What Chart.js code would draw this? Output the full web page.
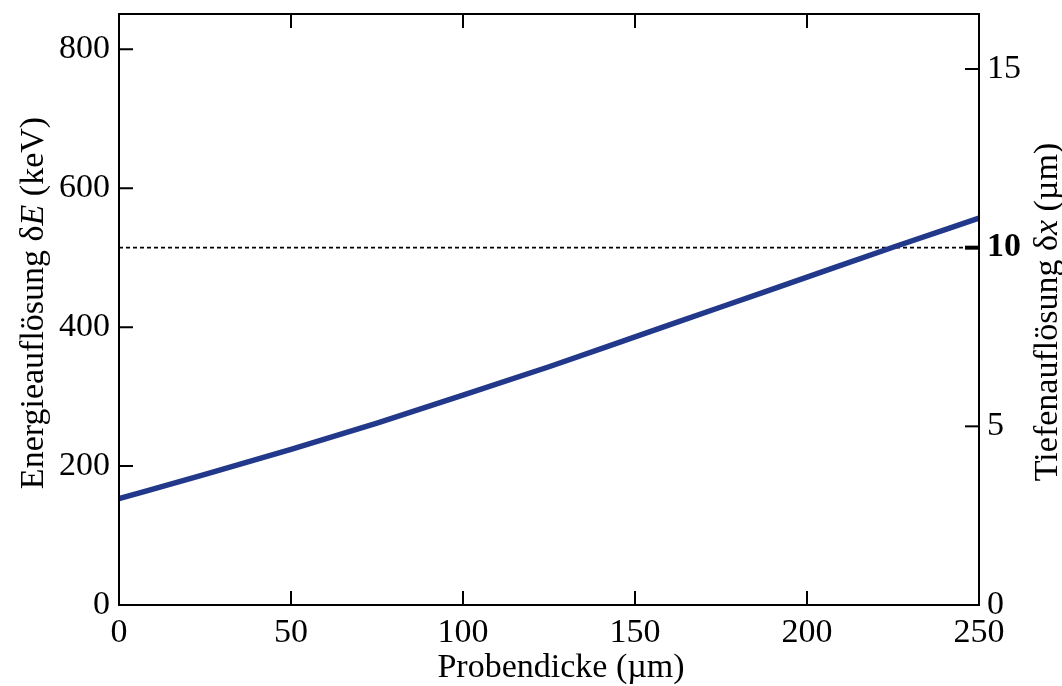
<!DOCTYPE html>
<html>
<head>
<meta charset="utf-8">
<script src="https://cdn.jsdelivr.net/npm/chart.js@4.4.1/dist/chart.umd.min.js"></script>
<style>
  html, body { margin: 0; padding: 0; background: #fff; }
  canvas { display: block; }
</style>
</head>
<body>
<canvas id="resolutionChart" width="1062" height="686"></canvas>
<script>
// Probendicke (µm) und Energieauflösung (keV)
const thickness = [0, 25, 50, 75, 100, 125, 150, 175, 200, 225, 250];
const energyRes = [153, 188, 224, 262, 302, 343, 386, 429, 472, 515, 557];

// Referenzlinie bei 10 µm Tiefenauflösung
const refThickness = [0, 250];
const refDepth = [10, 10];

// Achsenbereiche (rechte Achse: 1 µm ≙ 51.4 keV)
const energyMax = 850.8;
const depthMax = 16.54;
const energyTicks = 200;
const depthTicks = 5;
const thicknessTicks = 50;

const serif = '"Liberation Serif", "Times New Roman", serif';
const lineColor = '#22388a';

function drawParts(ctx, parts, size) {
    let w = 0;
    parts.forEach(p => {
        ctx.font = (p[1] ? 'italic ' : '') + size + 'px ' + serif;
        w += ctx.measureText(p[0]).width;
    });
    let x = -w / 2;
    parts.forEach(p => {
        ctx.font = (p[1] ? 'italic ' : '') + size + 'px ' + serif;
        ctx.fillText(p[0], x, 0);
        x += ctx.measureText(p[0]).width;
    });
}

const framePlugin = {
    id: 'frame',
    afterDatasetsDraw(chart) {
        const { ctx, chartArea: a, scales } = chart;
        const len = 14;
        ctx.save();
        ctx.strokeStyle = '#000';
        ctx.lineWidth = 2;
        ctx.strokeRect(a.left, a.top, a.right - a.left, a.bottom - a.top);

        ctx.beginPath();
        scales.x.ticks.forEach(t => {
            const px = scales.x.getPixelForValue(t.value);
            ctx.moveTo(px, a.bottom); ctx.lineTo(px, a.bottom - len);
            ctx.moveTo(px, a.top); ctx.lineTo(px, a.top + len);
        });
        scales.y.ticks.forEach(t => {
            const py = scales.y.getPixelForValue(t.value);
            ctx.moveTo(a.left, py); ctx.lineTo(a.left + len, py);
        });
        ctx.stroke();

        scales.y2.ticks.forEach(t => {
            const py = scales.y2.getPixelForValue(t.value);
            ctx.lineWidth = t.value === 10 ? 4 : 2;
            ctx.beginPath();
            ctx.moveTo(a.right, py); ctx.lineTo(a.right - len, py);
            ctx.stroke();
        });
        ctx.restore();
    },
    afterDraw(chart) {
        const { ctx } = chart;
        ctx.save();
        ctx.fillStyle = '#000';
        ctx.textBaseline = 'alphabetic';

        ctx.save();
        ctx.translate(561, 677);
        drawParts(ctx, [['Probendicke (µm)', false]], 34);
        ctx.restore();

        ctx.save();
        ctx.translate(43, 303);
        ctx.rotate(-Math.PI / 2);
        drawParts(ctx, [['Energieauflösung δ', false], ['E', true], [' (keV)', false]], 34);
        ctx.restore();

        ctx.save();
        ctx.translate(1057, 312);
        ctx.rotate(-Math.PI / 2);
        drawParts(ctx, [['Tiefenauflösung δ', false], ['x', true], [' (µm)', false]], 34);
        ctx.restore();

        ctx.restore();
    }
};

const tickFont = { family: serif, size: 34 };

new Chart(document.getElementById('resolutionChart').getContext('2d'), {
    type: 'line',
    data: {
        datasets: [
            {
                data: thickness.map((t, i) => ({ x: t, y: energyRes[i] })),
                yAxisID: 'y',
                borderColor: lineColor,
                borderWidth: 5.5,
                pointRadius: 0,
                cubicInterpolationMode: 'monotone',
                fill: false
            },
            {
                data: refThickness.map((t, i) => ({ x: t, y: refDepth[i] })),
                yAxisID: 'y2',
                borderColor: '#000',
                borderWidth: 1.8,
                borderDash: [4, 3],
                pointRadius: 0,
                fill: false
            }
        ]
    },
    options: {
        responsive: false,
        animation: false,
        layout: { padding: { top: 14, left: 0, right: 0, bottom: 0 } },
        plugins: { legend: { display: false }, tooltip: { enabled: false } },
        scales: {
            x: {
                type: 'linear',
                min: 0, max: 250,
                grid: { display: false, drawTicks: false },
                border: { display: false },
                ticks: { stepSize: thicknessTicks, color: '#000', font: tickFont, padding: 8, maxRotation: 0 },
                afterFit: s => { s.height = 81; s.paddingLeft = 0; s.paddingRight = 0; }
            },
            y: {
                position: 'left',
                min: 0, max: energyMax,
                grid: { display: false, drawTicks: false },
                border: { display: false },
                ticks: { stepSize: energyTicks, includeBounds: false, color: '#000', font: tickFont, padding: 9 },
                afterFit: s => { s.width = 119; s.paddingTop = 0; s.paddingBottom = 0; }
            },
            y2: {
                position: 'right',
                min: 0, max: depthMax,
                grid: { display: false, drawTicks: false },
                border: { display: false },
                ticks: {
                    stepSize: depthTicks, includeBounds: false, color: '#000', padding: 8,
                    font: c => ({ family: serif, size: 34, weight: c.tick && c.tick.value === 10 ? 'bold' : 'normal' })
                },
                afterFit: s => { s.width = 83; s.paddingTop = 0; s.paddingBottom = 0; }
            }
        }
    },
    plugins: [framePlugin]
});
</script>
</body>
</html>
